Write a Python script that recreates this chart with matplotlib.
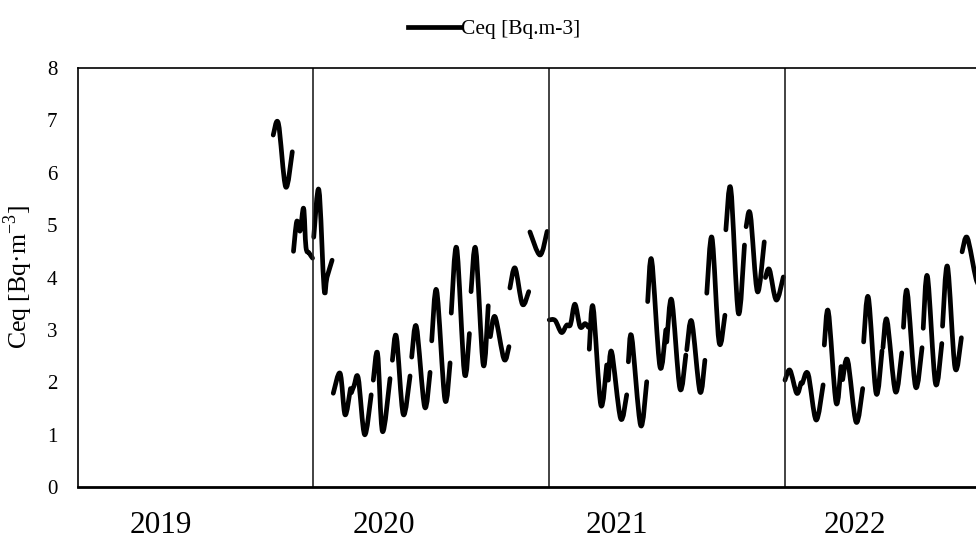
import numpy as np
import matplotlib
matplotlib.use("Agg")
import matplotlib.pyplot as plt
from matplotlib.path import Path
from matplotlib.patches import PathPatch
from matplotlib.lines import Line2D

nan = np.nan

# fraction of the year for each reading, NaN marks a gap between runs
f2019 = [0.829, 0.851, 0.882, 0.910, nan,
         0.915, 0.929, 0.943, 0.958, 0.968, 0.981, 0.996]
c2019 = [6.72, 6.94, 5.73, 6.40, nan,
         4.50, 5.07, 4.89, 5.32, 4.58, 4.47, 4.37]

f2020 = [0.001, 0.023, 0.045, 0.057, 0.079, nan,
         0.084, 0.113, 0.134, 0.157, nan,
         0.161, 0.172, 0.190, 0.217, 0.245, nan,
         0.254, 0.272, 0.293, 0.325, nan,
         0.335, 0.352, 0.381, 0.410, nan,
         0.417, 0.437, 0.472, 0.495, nan,
         0.502, 0.523, 0.558, 0.580, nan,
         0.585, 0.608, 0.641, 0.662, nan,
         0.669, 0.689, 0.721, 0.742, nan,
         0.751, 0.771, 0.809, 0.830, nan,
         0.834, 0.856, 0.887, 0.914, nan,
         0.919, 0.962, 0.992]
c2020 = [4.77, 5.67, 3.79, 4.00, 4.33, nan,
         1.79, 2.17, 1.38, 1.88, nan,
         1.80, 1.93, 2.08, 1.00, 1.76, nan,
         2.04, 2.55, 1.06, 2.07, nan,
         2.42, 2.87, 1.39, 2.12, nan,
         2.48, 3.06, 1.53, 2.19, nan,
         2.79, 3.75, 1.67, 2.37, nan,
         3.32, 4.56, 2.17, 2.93, nan,
         3.73, 4.54, 2.33, 3.46, nan,
         2.87, 3.25, 2.44, 2.68, nan,
         3.80, 4.18, 3.49, 3.73, nan,
         4.87, 4.43, 4.88]

f2021 = [0.001, 0.026, 0.053, 0.075, 0.091, 0.110, 0.132, 0.153, 0.167, nan,
         0.171, 0.187, 0.220, 0.245, nan,
         0.252, 0.266, 0.304, 0.330, nan,
         0.337, 0.351, 0.389, 0.415, nan,
         0.419, 0.436, 0.471, 0.496, nan,
         0.500, 0.521, 0.556, 0.581, nan,
         0.585, 0.606, 0.641, 0.662, nan,
         0.670, 0.692, 0.722, 0.747, nan,
         0.751, 0.772, 0.804, 0.830, nan,
         0.837, 0.855, 0.885, 0.914, nan,
         0.919, 0.936, 0.965, 0.995]
c2021 = [3.19, 3.18, 2.95, 3.09, 3.10, 3.49, 3.06, 3.12, 3.05, nan,
         2.63, 3.44, 1.57, 2.33, nan,
         2.04, 2.58, 1.31, 1.76, nan,
         2.39, 2.87, 1.18, 2.01, nan,
         3.54, 4.33, 2.30, 3.00, nan,
         2.77, 3.57, 1.88, 2.52, nan,
         2.62, 3.16, 1.82, 2.42, nan,
         3.70, 4.76, 2.77, 3.28, nan,
         4.91, 5.69, 3.32, 4.62, nan,
         4.97, 5.20, 3.73, 4.68, nan,
         4.00, 4.15, 3.57, 4.01]

f2022 = [0.002, 0.023, 0.052, 0.070, nan,
         0.076, 0.100, 0.134, 0.164, nan,
         0.169, 0.186, 0.219, 0.240, nan,
         0.247, 0.268, 0.304, 0.332, nan,
         0.336, 0.356, 0.389, 0.414, nan,
         0.418, 0.435, 0.471, 0.498, nan,
         0.505, 0.521, 0.556, 0.584, nan,
         0.589, 0.607, 0.641, 0.668, nan,
         0.671, 0.692, 0.724, 0.751, nan,
         0.754, 0.776, 0.813, 0.830]
c2022 = [2.04, 2.23, 1.79, 1.99, nan,
         1.98, 2.16, 1.28, 1.95, nan,
         2.71, 3.35, 1.61, 2.30, nan,
         2.05, 2.42, 1.24, 1.88, nan,
         2.77, 3.62, 1.79, 2.60, nan,
         2.66, 3.19, 1.82, 2.56, nan,
         3.05, 3.73, 1.92, 2.66, nan,
         3.03, 4.02, 1.98, 2.74, nan,
         3.07, 4.21, 2.28, 2.85, nan,
         4.49, 4.76, 3.98, 3.85]

years = [2019, 2020, 2021, 2022]
year_labels = ["2019", "2020", "2021", "2022"]
label_offset = [0.35, 0.30, 0.29, 0.30]
y_ticks = [0, 1, 2, 3, 4, 5, 6, 7, 8]

plt.rcParams['font.family'] = ['Liberation Serif', 'DejaVu Serif']
plt.rcParams['mathtext.fontset'] = 'custom'
plt.rcParams['mathtext.rm'] = 'Liberation Serif'


def smooth_path(xs, ys):
  # spreadsheet-style "smoothed line": bezier through every reading
  verts, codes = [], []
  run = []
  for x, y in list(zip(xs, ys)) + [(nan, nan)]:
    if np.isnan(x) or np.isnan(y):
      if len(run) > 1:
        p = np.array(run)
        n = len(p)
        verts.append(p[0]); codes.append(Path.MOVETO)
        for i in range(n - 1):
          p0 = p[i - 1] if i > 0 else p[i]
          p3 = p[i + 2] if i + 2 < n else p[i + 1]
          verts += [p[i] + (p[i + 1] - p0) / 6, p[i + 1] - (p3 - p[i]) / 6, p[i + 1]]
          codes += [Path.CURVE4] * 3
      run = []
    else:
      run.append((x, y))
  return Path(verts, codes)


t = []
c = []
for yr, f, v in zip(years, [f2019, f2020, f2021, f2022], [c2019, c2020, c2021, c2022]):
  t.extend([yr + x for x in f] + [nan])
  c.extend(list(v) + [nan])
t = np.array(t)
c = np.array(c)

fig = plt.figure(figsize=(9.76, 5.38), dpi=100)
ax = fig.add_axes([0.0799, 0.0948, 0.9652, 0.7788])

ax.add_patch(PathPatch(smooth_path(t, c), fill=False, ec='black', lw=3.4,
                       capstyle='round', joinstyle='round'))

for yr in years[1:]:
  ax.axvline(yr, color='#222222', lw=1.2)

ax.set_xlim(2019, 2023)
ax.set_ylim(0, 8)
ax.set_yticks(y_ticks)
ax.set_xticks([yr + o for yr, o in zip(years, label_offset)])
ax.set_xticklabels(year_labels, fontsize=22.5)
ax.tick_params(axis='x', length=0, pad=17)
ax.tick_params(axis='y', length=0, pad=15, labelsize=15)
for s in ['left', 'top', 'right']:
  ax.spines[s].set_linewidth(1.2)
ax.spines['bottom'].set_linewidth(2)

ax.set_ylabel('Ceq [Bq·m$^{\\mathregular{-3}}$]', fontsize=18.5)
ax.yaxis.set_label_coords(-0.046, 0.5)

handle = Line2D([], [], color='black', lw=3.4, label='Ceq [Bq.m-3]')
fig.legend(handles=[handle], loc='upper center', bbox_to_anchor=(0.506, 1.0),
           frameon=False, fontsize=15.5, handlelength=2.4, handletextpad=0.05)

fig.savefig('out.png', dpi=100)
